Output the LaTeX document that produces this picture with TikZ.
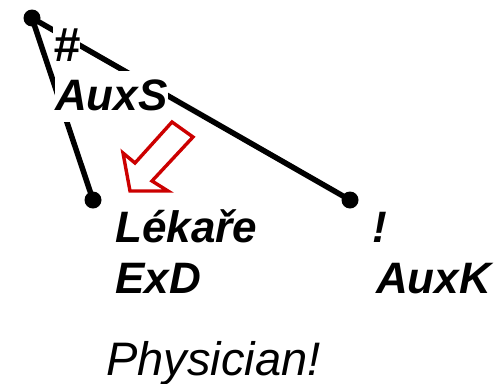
\documentclass[tikz,border=0pt]{standalone}
\usepackage{fontspec}
\newfontfamily\lblfont{Liberation Sans}
\definecolor{arrowred}{RGB}{204,0,0}
\begin{document}
\begin{tikzpicture}[x=1pt,y=-1pt,
  dotnode/.style={circle,fill=black,inner sep=0pt,minimum size=17pt},
  edgeline/.style={line width=5.5pt},
  lbl/.style={font=\lblfont\bfseries\itshape\fontsize{44}{50}\selectfont, anchor=base west, inner sep=0pt},
  cutlbl/.style={lbl, fill=white, text height=39pt, text depth=12pt},
  transl/.style={font=\lblfont\itshape\fontsize{47}{54}\selectfont, anchor=base west, inner sep=0pt},
  hollowarrow/.style={draw=arrowred, line width=3.4pt, fill=white, line join=miter}
  ]
\useasboundingbox (0,0) rectangle (494,383);
\node[dotnode] (root) at (32,18) {};
\node[dotnode] (lek) at (93,200) {};
\node[dotnode] (exc) at (350,200) {};
\draw[edgeline] (root.center) -- (lek.center);
\draw[edgeline] (root.center) -- (exc.center);
\node[cutlbl, font=\lblfont\bfseries\itshape\fontsize{48}{54}\selectfont, text height=36pt, text depth=2pt] (hash) at (53,61) {\#};
\node[cutlbl] (auxs) at (55,110) {AuxS};
\node[lbl] (lekare) at (115,242) {Lékaře};
\node[lbl] (exd) at (115,293) {ExD};
\node[lbl] (excl) at (372,242) {!};
\node[lbl] (auxk) at (376,293) {AuxK};
\node[transl] (phys) at (106,375) {Physician!};
\draw[hollowarrow] (172,122) -- (193,137) -- (152,181) -- (168,191) -- (130,191) -- (123,153) -- (135,163) -- cycle;
\end{tikzpicture}
\end{document}
